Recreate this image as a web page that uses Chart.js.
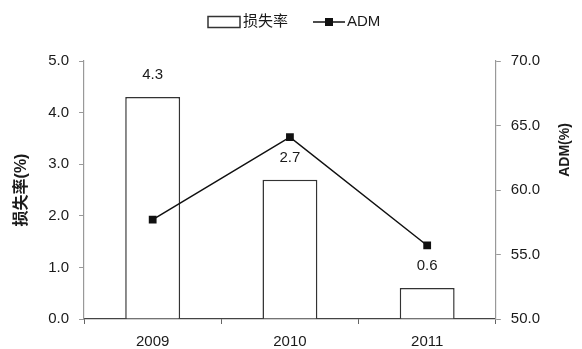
<!DOCTYPE html>
<html>
<head>
<meta charset="utf-8">
<script src="https://cdn.jsdelivr.net/npm/chart.js@4"></script>
<style>
  html, body { margin: 0; padding: 0; background: #fff; }
  #wrap { width: 582px; height: 349px; }
</style>
</head>
<body>
<div id="wrap"><canvas id="chart"></canvas></div>
<script>
const years = ["2009", "2010", "2011"];
const lossRate = [4.3, 2.7, 0.6];
const admValues = [57.7, 64.1, 55.7];
const lossTicks = [0, 1, 2, 3, 4, 5];
const admTicks = [50, 55, 60, 65, 70];

const fontFamily = '"Liberation Sans", Arial, "Noto Sans CJK SC", sans-serif';
const textColor = "#1a1a1a";

// value above each bar
const barLabels = {
  id: "barLabels",
  afterDatasetsDraw(chart) {
    const ctx = chart.ctx;
    const meta = chart.getDatasetMeta(1);
    ctx.save();
    ctx.font = "15px " + fontFamily;
    ctx.fillStyle = textColor;
    ctx.textAlign = "center";
    ctx.textBaseline = "middle";
    meta.data.forEach((bar, i) => {
      ctx.fillText(lossRate[i].toFixed(1), bar.x, bar.y - 22);
    });
    ctx.restore();
  },
};

// legend + right title, drawn by hand
const extras = {
  id: "extras",
  afterDraw(chart) {
    const ctx = chart.ctx;
    ctx.save();
    ctx.font = "15px " + fontFamily;
    ctx.fillStyle = textColor;
    ctx.textBaseline = "middle";
    let ly = 22;
    let lx = 208;
    // bar item
    ctx.strokeStyle = "#333";
    ctx.lineWidth = 1.5;
    ctx.strokeRect(lx, ly - 5.5, 32, 11);
    ctx.textAlign = "left";
    ctx.fillText("损失率", lx + 35, ly);
    // line item
    lx = 313;
    ctx.strokeStyle = "#111";
    ctx.beginPath();
    ctx.moveTo(lx, ly);
    ctx.lineTo(lx + 32, ly);
    ctx.stroke();
    ctx.fillStyle = "#111";
    ctx.fillRect(lx + 12, ly - 4, 8, 8);
    ctx.fillStyle = textColor;
    ctx.fillText("ADM", lx + 34, ly);

    // right axis title, reading bottom to top like the left one
    ctx.font = "bold 14px " + fontFamily;
    ctx.translate(565, 150);
    ctx.rotate(-Math.PI / 2);
    ctx.textAlign = "center";
    ctx.fillText("ADM(%)", 0, 0);
    ctx.restore();
  },
};

new Chart(document.getElementById("chart"), {
  type: "bar",
  data: {
    labels: years,
    datasets: [
      {
        label: "ADM",
        type: "line",
        data: admValues,
        yAxisID: "y1",
        borderColor: "#111",
        backgroundColor: "#111",
        borderWidth: 1.5,
        pointStyle: "rect",
        pointRadius: 5.5,
        pointBorderWidth: 0,
        tension: 0,
        order: 1,
      },
      {
        label: "损失率",
        data: lossRate,
        yAxisID: "y",
        backgroundColor: "#fff",
        borderColor: "#333",
        borderWidth: 1.5,
        categoryPercentage: 1,
        barPercentage: 0.4,
        order: 2,
      },
    ],
  },
  options: {
    responsive: true,
    maintainAspectRatio: false,
    animation: false,
    devicePixelRatio: 1,
    layout: { padding: { top: 61, right: 32, left: 12, bottom: -11 } },
    plugins: {
      legend: { display: false },
      tooltip: { enabled: false },
    },
    scales: {
      x: {
        offset: true,
        grid: { drawOnChartArea: false, drawTicks: true, tickLength: 5, color: "#666", offset: true },
        border: { color: "#444", width: 1.2 },
        ticks: { color: textColor, font: { family: fontFamily, size: 15 }, padding: 9 },
      },
      y: {
        position: "left",
        min: 0,
        max: 5,
        afterBuildTicks: (axis) => { axis.ticks = lossTicks.map((v) => ({ value: v })); },
        grid: { drawOnChartArea: false, tickLength: 5, color: "#999" },
        border: { color: "#999", width: 1.2 },
        ticks: {
          color: textColor,
          font: { family: fontFamily, size: 15 },
          padding: 10,
          callback: (v) => Number(v).toFixed(1),
        },
        title: {
          display: true,
          text: "损失率(%)",
          color: textColor,
          font: { family: fontFamily, size: 16, weight: "bold" },
          padding: { top: 0, bottom: 7 },
        },
      },
      y1: {
        position: "right",
        min: 50,
        max: 70,
        afterBuildTicks: (axis) => { axis.ticks = admTicks.map((v) => ({ value: v })); },
        grid: { drawOnChartArea: false, tickLength: 5, color: "#999" },
        border: { color: "#999", width: 1.2 },
        ticks: {
          color: textColor,
          font: { family: fontFamily, size: 15 },
          padding: 10,
          callback: (v) => Number(v).toFixed(1),
        },
      },
    },
  },
  plugins: [barLabels, extras],
});
</script>
</body>
</html>
